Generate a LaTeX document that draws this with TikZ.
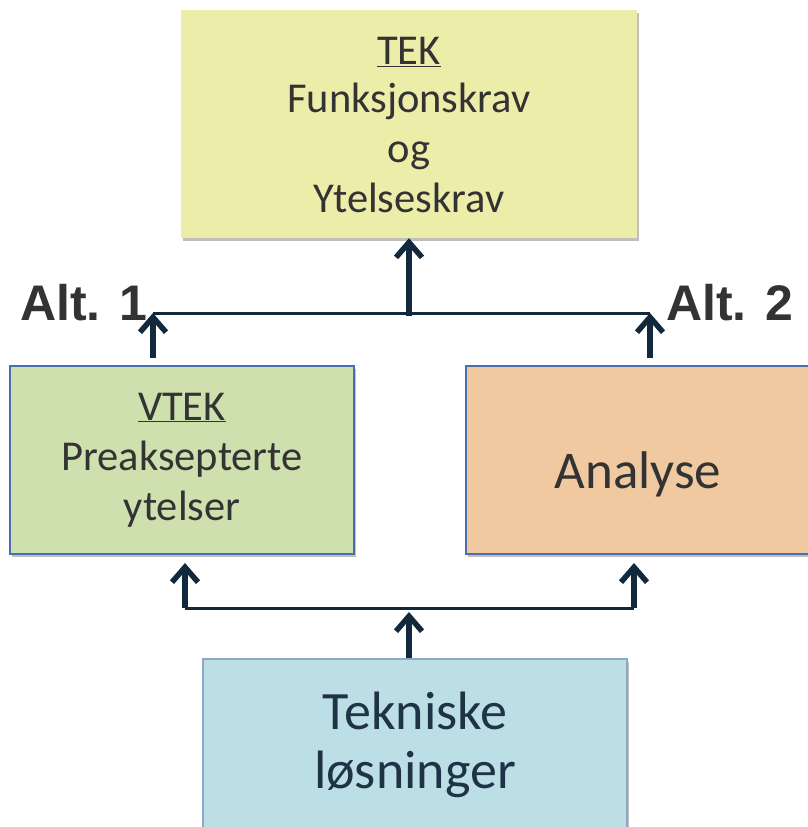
\documentclass[tikz,border=0pt]{standalone}
\usepackage{fontspec}
\setmainfont{Carlito}
\newfontfamily\altfont{Liberation Sans}
\usetikzlibrary{arrows.meta,shadows}
\definecolor{topfill}{HTML}{EBEDA9}
\definecolor{greenfill}{HTML}{CDE0AD}
\definecolor{orangefill}{HTML}{F0C9A0}
\definecolor{bluefill}{HTML}{BCDFE5}
\definecolor{boxedge}{HTML}{4A6FB0}
\definecolor{lightedge}{HTML}{8DA8C6}
\definecolor{arrowcol}{HTML}{12293D}
\definecolor{txt}{HTML}{333333}
\definecolor{navytxt}{HTML}{1F3347}
\tikzset{
  boxbase/.style={rectangle, inner sep=0pt, align=center, text=txt,
    drop shadow={shadow xshift=2pt, shadow yshift=-3pt, opacity=0.25, fill=black}},
  arr/.style={draw=arrowcol, line width=5.5pt, -{Straight Barb[length=15pt,width=26pt]}},
  hline/.style={draw=arrowcol, line width=3pt},
  alttext/.style={font=\altfont\bfseries\fontsize{50}{60}\selectfont, text=txt, inner sep=0pt}
}
\begin{document}
\begin{tikzpicture}[x=1pt,y=-1pt]
\useasboundingbox (0,0) rectangle (807,827);
% boxes
\node[boxbase, fill=topfill, minimum width=456pt, minimum height=228pt,
  font=\fontsize{42.5}{50}\selectfont] (tek) at (409,124)
  {\raisebox{-2pt}[\height][\depth]{\underline{TEK}}\\Funksjonskrav\\og\\Ytelseskrav};
\node[boxbase, fill=greenfill, draw=boxedge, line width=2pt, minimum width=344pt, minimum height=188pt,
  font=\fontsize{42.5}{50}\selectfont] (vtek) at (182,460)
  {\underline{VTEK}\\Preaksepterte\\ytelser};
\node[boxbase, fill=orangefill, draw=boxedge, line width=2pt, minimum width=344pt, minimum height=188pt,
  font=\fontsize{53}{60}\selectfont] (ana) at (638,460) {\raisebox{-14pt}[\height][\depth]{Analyse}};
\node[boxbase, fill=bluefill, draw=lightedge, line width=2pt, minimum width=424pt, minimum height=172pt,
  text=navytxt, font=\fontsize{54}{59}\selectfont] (tek2) at (415,745)
  {Tekniske\\løsninger};
% labels
\node[alttext, anchor=base west] (alt1) at (20,320) {Alt. 1};
\node[alttext, anchor=base west] (alt2) at (666,320) {Alt. 2};
% upper junction
\coordinate (ul) at (153,313);
\coordinate (ur) at (650,313);
\coordinate (uc) at (409,316);
\coordinate (ls) at (153,358);
\coordinate (rs) at (650,358);
\draw[hline] (ul) -- (ur);
\draw[arr] (ls) -- (ul);
\draw[arr] (rs) -- (ur);
\draw[arr] (uc) -- (tek.south -| uc);
% lower junction
\coordinate (bl) at (185,608);
\coordinate (br) at (634,608);
\coordinate (blt) at (185,563);
\coordinate (brt) at (634,563);
\coordinate (bct) at (409,612);
\draw[hline] (bl) -- (br);
\draw[arr] (bl) -- (blt);
\draw[arr] (br) -- (brt);
\draw[arr] (tek2.north -| bct) -- (bct);
\end{tikzpicture}
\end{document}
